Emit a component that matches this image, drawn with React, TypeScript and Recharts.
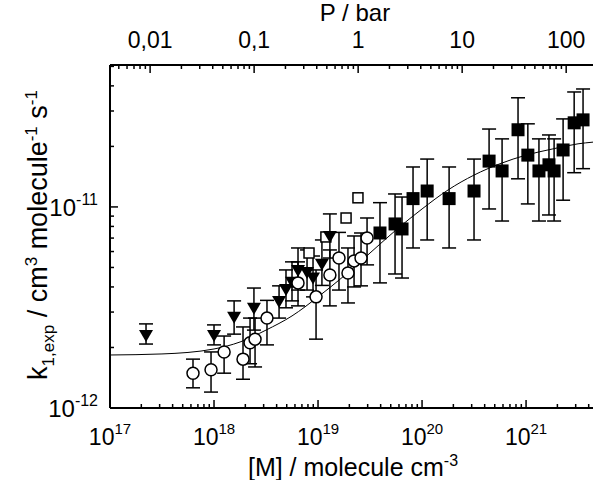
import React from "react";
import { ComposedChart, Scatter, Line, XAxis, YAxis, ErrorBar } from "recharts";

// [M] in molecule cm^-3, k in cm3 molecule-1 s-1
const squareM = [3.94e19, 5.5e19, 6.42e19, 8.19e19, 1.12e20, 1.82e20, 3.16e20, 4.41e20, 5.88e20, 8.37e20, 1.04e21, 1.33e21, 1.66e21, 1.86e21, 2.27e21, 2.9e21, 3.53e21];
const squareK = [7.42e-12, 8.23e-12, 7.77e-12, 1.1e-11, 1.2e-11, 1.1e-11, 1.2e-11, 1.69e-11, 1.51e-11, 2.42e-11, 1.81e-11, 1.51e-11, 1.62e-11, 1.51e-11, 1.92e-11, 2.62e-11, 2.71e-11];
const squareLo = [4.19e-12, 4.64e-12, 4.43e-12, 6.25e-12, 6.85e-12, 6.25e-12, 6.85e-12, 9.77e-12, 8.51e-12, 1.38e-11, 1.035e-11, 8.51e-12, 9.12e-12, 8.51e-12, 1.08e-11, 1.48e-11, 1.55e-11];
const squareHi = [1.05e-11, 1.16e-11, 1.12e-11, 1.58e-11, 1.73e-11, 1.58e-11, 1.73e-11, 2.44e-11, 2.18e-11, 3.49e-11, 2.59e-11, 2.18e-11, 2.28e-11, 2.18e-11, 2.74e-11, 3.73e-11, 3.86e-11];

const openSqM = [8.19e18, 1.19e19, 1.86e19, 2.42e19];
const openSqK = [5.9e-12, 7.09e-12, 8.81e-12, 1.11e-11];

const triM = [2.22e17, 1.0e18, 1.56e18, 2.42e18, 4.22e18, 4.92e18, 5.62e18, 6.42e18, 7.84e18, 8.95e18, 1.09e19, 1.3e19];
const triK = [2.31e-12, 2.31e-12, 2.84e-12, 3.15e-12, 3.41e-12, 3.91e-12, 4.24e-12, 4.86e-12, 4.75e-12, 4.46e-12, 5.21e-12, 7.17e-12];
const triLo = [2.08e-12, 2.06e-12, 2.33e-12, 2.44e-12, 2.8e-12, 3.15e-12, 3.41e-12, 3.86e-12, 3.86e-12, 3.57e-12, 4.07e-12, 5.57e-12];
const triHi = [2.62e-12, 2.59e-12, 3.41e-12, 3.95e-12, 4.05e-12, 4.86e-12, 5.33e-12, 6.25e-12, 6.11e-12, 5.7e-12, 6.85e-12, 9.23e-12];

const circM = [6.28e17, 9.36e17, 1.25e18, 1.9e18, 2.22e18, 2.48e18, 3.23e18, 6.42e18, 9.57e18, 1.3e19, 1.59e19, 1.94e19, 2.22e19, 2.59e19, 2.96e19];
const circK = [1.49e-12, 1.55e-12, 1.9e-12, 1.75e-12, 2.11e-12, 2.2e-12, 2.8e-12, 4.19e-12, 3.57e-12, 4.59e-12, 5.57e-12, 4.69e-12, 5.39e-12, 5.57e-12, 7.01e-12];
const circLo = [1.26e-12, 1.2e-12, 1.49e-12, 1.39e-12, 1.66e-12, 1.6e-12, 2.06e-12, 3.22e-12, 2.2e-12, 3.22e-12, 3.86e-12, 3.33e-12, 4.0e-12, 4.05e-12, 5.15e-12];
const circHi = [1.75e-12, 1.9e-12, 2.28e-12, 2.53e-12, 2.8e-12, 2.8e-12, 3.43e-12, 5.33e-12, 4.86e-12, 6.11e-12, 7.47e-12, 6.25e-12, 7.17e-12, 7.42e-12, 8.81e-12];

// fit curve, read at quarter decades
const fitM = [1e17, 3.16e17, 1e18, 1.78e18, 3.16e18, 5.62e18, 1e19, 1.78e19, 3.16e19, 5.62e19, 1e20, 1.78e20, 3.16e20, 5.62e20, 1e21, 1.78e21, 3.16e21, 4.4e21];
const fitK = [1.835e-12, 1.857e-12, 1.966e-12, 2.13e-12, 2.44e-12, 2.87e-12, 3.57e-12, 4.54e-12, 5.9e-12, 7.68e-12, 9.77e-12, 1.215e-11, 1.44e-11, 1.64e-11, 1.81e-11, 1.94e-11, 2.06e-11, 2.1e-11];

const X_DOMAIN = [1e17, 4.4e21];
const Y_DOMAIN = [1e-12, 5.08e-11];
const M_PER_BAR = 2.43e19;
const P_DOMAIN = [X_DOMAIN[0] / M_PER_BAR, X_DOMAIN[1] / M_PER_BAR];

const FONT = "'Liberation Sans', Arial, Helvetica, sans-serif";

const rows = (M: number[], k: number[], lo?: number[], hi?: number[]) =>
  M.map((m, i) => ({
    M: m,
    k: k[i],
    err: lo && hi ? [k[i] - lo[i], hi[i] - k[i]] : undefined,
  }));

const squares = rows(squareM, squareK, squareLo, squareHi);
const openSquares = rows(openSqM, openSqK);
const triangles = rows(triM, triK, triLo, triHi);
const circles = rows(circM, circK, circLo, circHi);
const fit = rows(fitM, fitK);
// invisible points so the pressure axis gets drawn
const pressureEnds = P_DOMAIN.map((p) => ({ P: p, k: Y_DOMAIN[0] }));

const logTicks = (lo: number, hi: number) => {
  const out: number[] = [];
  for (let d = Math.floor(Math.log10(lo)); d <= Math.ceil(Math.log10(hi)); d++) {
    for (let m = 1; m <= 9; m++) {
      const v = m * Math.pow(10, d);
      if (v >= lo * 0.999 && v <= hi * 1.001) out.push(v);
    }
  }
  return out;
};

const isMajor = (v: number) => {
  const e = Math.round(Math.log10(v));
  return Math.abs(v / Math.pow(10, e) - 1) < 1e-6;
};

const BottomTick = (props: any) => {
  const { x, y, payload } = props;
  const v = payload.value;
  const major = isMajor(v);
  return (
    <g>
      <line x1={x} x2={x} y1={y} y2={y - (major ? 8 : 4)} stroke="#000" strokeWidth={1.5} />
      {major && (
        <text x={x} y={y + 37} textAnchor="middle" fontFamily={FONT} fontSize={23} fill="#000">
          10<tspan dy={-11} fontSize={15}>{Math.round(Math.log10(v))}</tspan>
        </text>
      )}
    </g>
  );
};

const TopTick = (props: any) => {
  const { x, y, payload } = props;
  const v = payload.value;
  const major = isMajor(v);
  return (
    <g>
      <line x1={x} x2={x} y1={y} y2={y + (major ? 8 : 4)} stroke="#000" strokeWidth={1.5} />
      {major && (
        <text x={x} y={y - 17} textAnchor="middle" fontFamily={FONT} fontSize={23} fill="#000">
          {String(Number(v.toPrecision(3))).replace(".", ",")}
        </text>
      )}
    </g>
  );
};

const LeftTick = (props: any) => {
  const { x, y, payload } = props;
  const v = payload.value;
  const major = isMajor(v);
  return (
    <g>
      <line x1={x} x2={x + (major ? 8 : 4)} y1={y} y2={y} stroke="#000" strokeWidth={1.5} />
      {major && (
        <text x={x - 12} y={y + 9} textAnchor="end" fontFamily={FONT} fontSize={24} fill="#000">
          10<tspan dy={-11} fontSize={16}>{Math.round(Math.log10(v))}</tspan>
        </text>
      )}
    </g>
  );
};

const FilledSquare = (p: any) => <rect x={p.cx - 6.5} y={p.cy - 6.5} width={13} height={13} fill="#000" />;
const OpenSquare = (p: any) => (
  <rect x={p.cx - 5} y={p.cy - 5} width={10} height={10} fill="#fff" stroke="#000" strokeWidth={1.5} />
);
const Triangle = (p: any) => (
  <polygon points={`${p.cx - 7},${p.cy - 5} ${p.cx + 7},${p.cy - 5} ${p.cx},${p.cy + 7}`} fill="#000" />
);
const Circle = (p: any) => <circle cx={p.cx} cy={p.cy} r={6} fill="#fff" stroke="#000" strokeWidth={1.5} />;
const Nothing = () => <g />;

export default function App() {
  return (
    <div style={{ position: "absolute", left: 0, top: 0, background: "#fff" }}>
      <ComposedChart width={593} height={480} margin={{ top: 0, right: 0, bottom: 0, left: 0 }}>
        <XAxis
          xAxisId="bottom"
          dataKey="M"
          type="number"
          scale="log"
          domain={X_DOMAIN}
          allowDataOverflow
          ticks={logTicks(X_DOMAIN[0], X_DOMAIN[1])}
          interval={0}
          height={72}
          tickSize={0}
          tickMargin={0}
          tickLine={false}
          tick={<BottomTick />}
          axisLine={{ stroke: "#000", strokeWidth: 2 }}
        />
        <XAxis
          xAxisId="top"
          dataKey="P"
          orientation="top"
          type="number"
          scale="log"
          domain={P_DOMAIN}
          allowDataOverflow
          ticks={logTicks(P_DOMAIN[0], P_DOMAIN[1])}
          interval={0}
          height={65}
          tickSize={0}
          tickMargin={0}
          tickLine={false}
          tick={<TopTick />}
          axisLine={{ stroke: "#000", strokeWidth: 2 }}
        />
        <YAxis
          dataKey="k"
          type="number"
          scale="log"
          domain={Y_DOMAIN}
          allowDataOverflow
          ticks={logTicks(Y_DOMAIN[0], Y_DOMAIN[1])}
          interval={0}
          width={110}
          tickSize={0}
          tickMargin={0}
          tickLine={false}
          tick={<LeftTick />}
          axisLine={{ stroke: "#000", strokeWidth: 2 }}
        />
        <Scatter xAxisId="top" data={pressureEnds} shape={Nothing} isAnimationActive={false} />
        <Line
          xAxisId="bottom"
          data={fit}
          dataKey="k"
          type="monotone"
          stroke="#000"
          strokeWidth={1}
          dot={false}
          activeDot={false}
          isAnimationActive={false}
        />
        <Scatter xAxisId="bottom" data={squares} shape={FilledSquare} isAnimationActive={false}>
          <ErrorBar dataKey="err" direction="y" width={7} stroke="#000" strokeWidth={1.5} />
        </Scatter>
        <Scatter xAxisId="bottom" data={openSquares} shape={OpenSquare} isAnimationActive={false} />
        <Scatter xAxisId="bottom" data={triangles} shape={Triangle} isAnimationActive={false}>
          <ErrorBar dataKey="err" direction="y" width={7} stroke="#000" strokeWidth={1.5} />
        </Scatter>
        <Scatter xAxisId="bottom" data={circles} shape={Circle} isAnimationActive={false}>
          <ErrorBar dataKey="err" direction="y" width={7} stroke="#000" strokeWidth={1.5} />
        </Scatter>
        <text x={355} y={21} textAnchor="middle" fontFamily={FONT} fontSize={24} fill="#000">
          P / bar
        </text>
        <text x={353} y={476} textAnchor="middle" fontFamily={FONT} fontSize={25} fill="#000">
          [M] / molecule cm<tspan dy={-10} fontSize={16}>-3</tspan>
        </text>
        <text
          transform="translate(47,235) rotate(-90)"
          textAnchor="middle"
          fontFamily={FONT}
          fontSize={27}
          fill="#000"
        >
          k<tspan dy={7} fontSize={17}>1,exp</tspan>
          <tspan dy={-7}> / cm</tspan>
          <tspan dy={-10} fontSize={17}>3</tspan>
          <tspan dy={10}> molecule</tspan>
          <tspan dy={-10} fontSize={17}>-1</tspan>
          <tspan dy={10}> s</tspan>
          <tspan dy={-10} fontSize={17}>-1</tspan>
        </text>
      </ComposedChart>
    </div>
  );
}
